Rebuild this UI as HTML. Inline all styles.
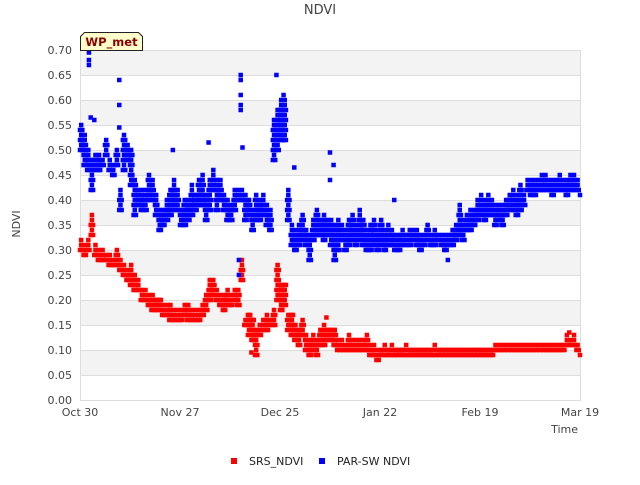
<!DOCTYPE html>
<html><head><meta charset="utf-8"><style>
body{margin:0;background:#fff;}
svg text{font-family:"DejaVu Sans","Liberation Sans",sans-serif;}
</style></head><body>
<svg id="chart" width="640" height="480" viewBox="0 0 640 480" xmlns="http://www.w3.org/2000/svg">
<rect width="640" height="480" fill="#fff"/>
<g id="bands"></g>
<g id="grid"></g>
<rect x="80.5" y="50.5" width="500" height="350" fill="none" stroke="#ddd"/>
<g id="yticks"></g>
<g id="xticks"></g>
<g id="srs"></g>
<g id="par"></g>
<text x="320" y="14" text-anchor="middle" font-size="13" fill="#444">NDVI</text>
<text x="20" y="224" text-anchor="middle" font-size="11" fill="#444" transform="rotate(-90 20 224)">NDVI</text>
<text x="578" y="433" text-anchor="end" font-size="11" fill="#444">Time</text>
<g>
<path d="M80.5,50.5 L80.5,36.5 L84.5,32.5 L138.5,32.5 L142.5,36.5 L142.5,50.5 Z" fill="#ffffcc" stroke="#222"/>
<text x="111.5" y="46" text-anchor="middle" font-size="11.5" font-weight="bold" fill="#8b0000">WP_met</text>
</g>
<g>
<g><rect x="231" y="458" width="6" height="6" fill="#f00"/><text x="249" y="465" font-size="11" fill="#222">SRS_NDVI</text></g>
<g><rect x="319" y="458" width="6" height="6" fill="#00f"/><text x="337" y="465" font-size="11" fill="#222">PAR-SW NDVI</text></g>
</g>
</svg>
<script>
const yTicks=[0,0.05,0.10,0.15,0.20,0.25,0.30,0.35,0.40,0.45,0.50,0.55,0.60,0.65,0.70];
const xTickLabels=["Oct 30","Nov 27","Dec 25","Jan 22","Feb 19","Mar 19"];
const xTickDays=[0,28,56,84,112,140];
const srsLo=[.30,.29,.30,.33,.29,.28,.28,.28,.27,.27,.27,.26,.25,.24,.23,.22,.22,.20,.20,.19,.18,.18,.18,.17,.17,.16,.16,.16,.16,.17,.16,.16,.16,.16,.17,.18,.20,.21,.20,.19,.18,.19,.19,.20,.19,.24,.15,.13,.12,.09,.13,.14,.14,.15,.15,.20,.18,.19,.14,.13,.12,.11,.13,.10,.09,.10,.09,.11,.11,.12,.12,.11,.10,.10,.10,.10,.10,.10,.10,.10,.10,.09,.09,.08,.09,.09,.09,.09,.09,.09,.09,.09,.09,.09,.09,.09,.09,.09,.09,.09,.09,.09,.09,.09,.09,.09,.09,.09,.09,.09,.09,.09,.09,.09,.09,.09,.10,.10,.10,.10,.10,.10,.10,.10,.10,.10,.10,.10,.10,.10,.10,.10,.10,.10,.10,.10,.11,.11,.11,.10,.09];
const srsHi=[.32,.31,.32,.37,.31,.30,.30,.29,.29,.28,.30,.28,.27,.26,.27,.25,.24,.22,.22,.21,.21,.20,.20,.19,.19,.19,.18,.18,.18,.19,.19,.18,.18,.18,.19,.21,.24,.24,.22,.21,.21,.22,.21,.22,.22,.28,.16,.17,.16,.14,.15,.16,.17,.16,.18,.27,.23,.23,.17,.17,.15,.14,.16,.13,.12,.13,.12,.14,.15,.14,.14,.14,.12,.12,.11,.13,.12,.12,.12,.12,.13,.11,.11,.10,.10,.11,.10,.11,.10,.10,.10,.11,.10,.10,.10,.10,.10,.10,.10,.11,.10,.10,.10,.10,.10,.10,.10,.10,.10,.10,.10,.10,.10,.10,.10,.10,.11,.11,.11,.11,.11,.11,.11,.11,.11,.11,.11,.11,.11,.11,.11,.11,.11,.11,.11,.11,.13,.12,.13,.11,.10];
const parLo=[.50,.47,.46,.42,.46,.46,.47,.49,.46,.45,.47,.38,.46,.48,.43,.37,.39,.38,.38,.40,.40,.37,.34,.35,.36,.37,.38,.38,.35,.35,.36,.37,.38,.39,.39,.36,.38,.42,.38,.40,.38,.36,.36,.38,.40,.40,.36,.37,.34,.36,.36,.37,.35,.34,.48,.50,.52,.52,.36,.31,.30,.31,.32,.31,.28,.32,.33,.33,.32,.33,.31,.28,.30,.32,.30,.31,.32,.31,.32,.31,.30,.30,.31,.30,.31,.30,.31,.31,.30,.30,.31,.31,.31,.32,.31,.30,.31,.32,.31,.31,.32,.31,.30,.31,.31,.32,.33,.32,.34,.34,.35,.36,.37,.36,.37,.37,.35,.36,.35,.37,.38,.38,.37,.38,.39,.42,.41,.41,.42,.42,.42,.42,.41,.42,.42,.42,.41,.42,.42,.42,.41];
const parHi=[.55,.53,.50,.48,.49,.49,.48,.52,.48,.47,.50,.42,.53,.51,.50,.44,.42,.42,.42,.45,.44,.41,.38,.38,.40,.42,.44,.42,.38,.40,.40,.43,.41,.44,.45,.41,.44,.46,.44,.44,.41,.40,.39,.42,.42,.42,.41,.40,.38,.41,.40,.41,.39,.38,.56,.58,.60,.60,.42,.35,.34,.35,.37,.34,.33,.36,.38,.36,.37,.36,.36,.35,.36,.35,.34,.36,.37,.35,.38,.36,.34,.35,.36,.34,.36,.34,.35,.34,.33,.33,.34,.33,.34,.34,.34,.33,.33,.35,.33,.34,.33,.33,.33,.33,.34,.35,.39,.36,.37,.38,.38,.40,.41,.40,.41,.40,.39,.39,.39,.40,.41,.42,.41,.43,.41,.44,.44,.44,.44,.45,.45,.44,.44,.44,.45,.44,.44,.45,.45,.44,.43];
const parOutDays=[2.5,2.5,2.5,3,4,11,11,11,26,36,45,45,45,45,45,44.5,44.5,45.5,55,57,57,60,70,71,70,88,103];
const parOutVals=[.695,.68,.67,.565,.56,.64,.59,.545,.50,.515,.65,.64,.61,.59,.58,.28,.25,.505,.65,.61,.52,.465,.495,.47,.44,.40,.28];
const srsOutDays=[48,69,137];
const srsOutVals=[.095,.165,.135];

const X0=80,X1=580,Y0=400,Y1=50,DMAX=140,VMAX=0.70;
function xs(d){return X0+(X1-X0)*d/DMAX;}
function ys(v){return Y0-(Y0-Y1)*v/VMAX;}
const NS="http://www.w3.org/2000/svg";
function mk(tag,parent,attrs){const e=document.createElementNS(NS,tag);for(const k in attrs)e.setAttribute(k,attrs[k]);parent.appendChild(e);return e;}

const bands=document.getElementById('bands');
for(let i=1;i<14;i+=2){
  const r=mk('rect',bands,{x:X0,y:ys(yTicks[i+1]),width:X1-X0,height:ys(yTicks[i])-ys(yTicks[i+1]),fill:'#f3f3f3'});
  
  
}
const grid=document.getElementById('grid');
const yt=document.getElementById('yticks');
yTicks.forEach(v=>{
  const l=mk('line',grid,{x1:X0,x2:X1,y1:Math.round(ys(v))+0.5,y2:Math.round(ys(v))+0.5,stroke:'#ddd'});
  
  
  const t=mk('text',yt,{x:72,y:ys(v)+4,'text-anchor':'end','font-size':11,fill:'#444'});
  t.textContent=v.toFixed(2);
  
  
});
const xt=document.getElementById('xticks');
xTickDays.forEach((d,i)=>{
  const t=mk('text',xt,{x:xs(d),y:416,'text-anchor':'middle','font-size':11,fill:'#444'});
  t.textContent=xTickLabels[i];
  
  
});
function pt(g,d,v,col){
  const r=mk('rect',g,{x:xs(d)-2.25,y:ys(v)-2.25,width:4.5,height:4.5,fill:col});
  
  
}
function series(g,lo,hi,col){
  for(let d=0;d<lo.length;d++){
    for(let k=0;k<3;k++){
      const dd=d+k*0.33; if(dd>DMAX) continue;
      const off=(k%2)*0.01;
      for(let v=lo[d]+off;v<hi[d];v+=0.02) pt(g,dd,v,col);
      if(k===1) pt(g,dd,hi[d],col);
    }
  }
}
const gS=document.getElementById('srs'),gP=document.getElementById('par');
series(gS,srsLo,srsHi,'#f00');
srsOutDays.forEach((d,i)=>pt(gS,d,srsOutVals[i],'#f00'));
series(gP,parLo,parHi,'#00f');
parOutDays.forEach((d,i)=>pt(gP,d,parOutVals[i],'#00f'));
</script>
</body></html>
